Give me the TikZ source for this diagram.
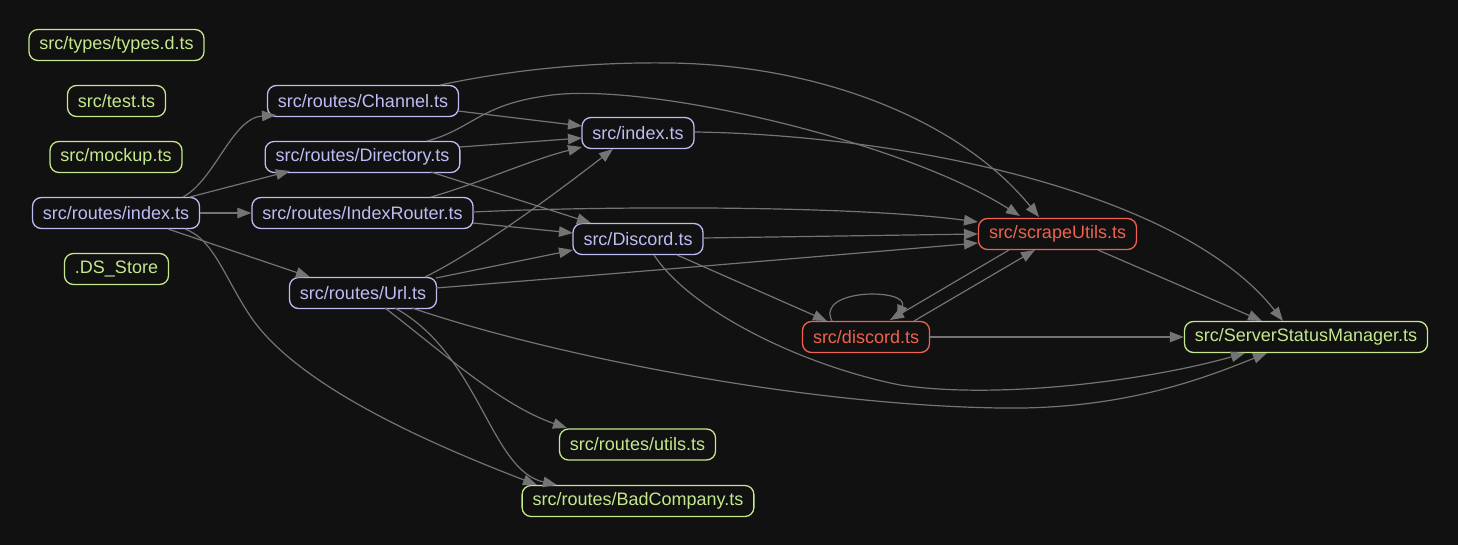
\documentclass[tikz,border=0pt]{standalone}
\usepackage{fontspec}
\setmainfont{Liberation Sans}
\usetikzlibrary{arrows.meta}
\definecolor{bgc}{HTML}{111111}
\definecolor{ngreen}{HTML}{C3E88D}
\definecolor{npurple}{HTML}{BDBDF5}
\definecolor{nred}{HTML}{F0614F}
\definecolor{egray}{HTML}{747474}
\tikzset{
  filebox/.style={draw, rounded corners=9pt, line width=1.3pt, minimum height=31pt,
    inner xsep=10.5pt, inner ysep=0pt},
  gnode/.style={filebox, draw=ngreen, text=ngreen},
  pnode/.style={filebox, draw=npurple, text=npurple},
  rnode/.style={filebox, draw=nred, text=nred},
  edge/.style={draw=egray, line width=1.2pt, -{Triangle[length=14pt,width=10.5pt]}, fill=none},
}
\begin{document}
\begin{tikzpicture}[x=1pt, y=-1pt, font=\fontsize{18}{21}\selectfont]
\fill[bgc] (0,0) rectangle (1458,545);
\useasboundingbox (0,0) rectangle (1458,545);

% nodes
\node[gnode] (types) at (116.5,45) {src/types/types.d.ts};
\node[gnode] (test) at (116.5,101) {src/test.ts};
\node[gnode] (mockup) at (116,157) {src/mockup.ts};
\node[pnode] (R) at (116,213) {src/routes/index.ts};
\node[gnode] (DS) at (116.5,269) {.DS\_Store};
\node[pnode] (Channel) at (363,101) {src/routes/Channel.ts};
\node[pnode] (Directory) at (362.5,157) {src/routes/Directory.ts};
\node[pnode] (IR) at (362.5,213) {src/routes/IndexRouter.ts};
\node[pnode] (Url) at (363,293) {src/routes/Url.ts};
\node[pnode] (index) at (638,133) {src/index.ts};
\node[pnode] (Discord) at (638,239) {src/Discord.ts};
\node[rnode] (scrape) at (1057.5,234) {src/scrapeUtils.ts};
\node[rnode] (discord) at (866,337) {src/discord.ts};
\node[gnode] (SSM) at (1306,337) {src/ServerStatusManager.ts};
\node[gnode] (utils) at (637.5,444.5) {src/routes/utils.ts};
\node[gnode] (Bad) at (638,501) {src/routes/BadCompany.ts};

% edges from routes/index
\draw[edge] ([shift={(67,-16)}]R.center) .. controls (215,180) and (232,118) .. ([shift={(-87,14)}]Channel.center);
\draw[edge] ([shift={(74,-16)}]R.center) -- ([shift={(-72.5,14)}]Directory.center);
\draw[edge] (R.east) -- (IR.west);
\draw[edge] ([shift={(52,16)}]R.center) -- ([shift={(-53,-16)}]Url.center);
\draw[edge] ([shift={(69,16)}]R.center) .. controls (215,240) and (225,280) .. (253,320)
  .. controls (300,385) and (420,440) .. ([shift={(-101,-16)}]Bad.center);

% Channel
\draw[edge] ([shift={(95,10)}]Channel.center) -- ([shift={(-56,-7)}]index.center);
\draw[edge] ([shift={(77,-16)}]Channel.center) .. controls (520,68) and (600,62) .. (670,63)
  .. controls (820,65) and (960,120) .. ([shift={(-18.5,-17)}]scrape.center);

% Directory
\draw[edge] ([shift={(97.5,-10)}]Directory.center) -- ([shift={(-56,5)}]index.center);
\draw[edge] ([shift={(68.5,15)}]Directory.center) -- ([shift={(-47,-16)}]Discord.center);
\draw[edge] ([shift={(64.5,-16)}]Directory.center) .. controls (470,130) and (480,105) .. (545,96)
  .. controls (640,80) and (900,140) .. ([shift={(-37.5,-18)}]scrape.center);

% IndexRouter
\draw[edge] ([shift={(68.5,-16)}]IR.center) .. controls (480,183) and (530,160) .. ([shift={(-56,14)}]index.center);
\draw[edge] ([shift={(110.5,10)}]IR.center) -- ([shift={(-65,-6)}]Discord.center);
\draw[edge] ([shift={(110.5,-1)}]IR.center) .. controls (600,206) and (850,205) .. ([shift={(-79.5,-12)}]scrape.center);

% Url
\draw[edge] ([shift={(62,-16)}]Url.center) .. controls (480,250) and (560,190) .. ([shift={(-25,16)}]index.center);
\draw[edge] ([shift={(73,-15)}]Url.center) -- ([shift={(-65,11)}]Discord.center);
\draw[edge] ([shift={(73,-5)}]Url.center) .. controls (600,275) and (800,258) .. ([shift={(-79.5,9)}]scrape.center);
\draw[edge] ([shift={(49,15)}]Url.center) .. controls (550,355) and (800,405) .. (1000,408)
  .. controls (1120,410) and (1200,380) .. ([shift={(-39,16)}]SSM.center);
\draw[edge] ([shift={(22,15)}]Url.center) .. controls (440,350) and (500,405) .. ([shift={(-70.5,-16.5)}]utils.center);
\draw[edge] ([shift={(32,15)}]Url.center) .. controls (480,355) and (490,470) .. ([shift={(-81,-16)}]Bad.center);

% index.ts
\draw[edge] ([shift={(57,-1)}]index.center) .. controls (900,135) and (1180,190) .. ([shift={(-23,-16)}]SSM.center);

% Discord.ts
\draw[edge] ([shift={(65,-1)}]Discord.center) -- ([shift={(-79.5,0)}]scrape.center);
\draw[edge] ([shift={(39,16)}]Discord.center) -- ([shift={(-39,-16)}]discord.center);
\draw[edge] ([shift={(16,16)}]Discord.center) .. controls (690,310) and (800,365) .. (900,385)
  .. controls (1000,400) and (1150,380) .. ([shift={(-61,16)}]SSM.center);

% scrapeUtils
\draw[edge] ([shift={(40.5,16)}]scrape.center) -- ([shift={(-44,-16)}]SSM.center);
\draw[edge] ([shift={(-48.5,16)}]scrape.center) -- ([shift={(24,-17)}]discord.center);

% discord.ts
\draw[edge] ([shift={(48,-16)}]discord.center) -- ([shift={(-22.5,16)}]scrape.center);
\draw[edge] ([shift={(-34,-16)}]discord.center) .. controls (815,288) and (910,288) .. ([shift={(31,-18)}]discord.center);
\draw[edge] (discord.east) -- (SSM.west);
\end{tikzpicture}
\end{document}
